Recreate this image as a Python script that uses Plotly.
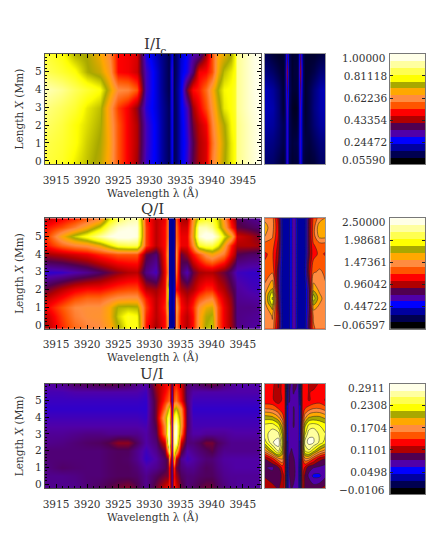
import numpy as np
import plotly.graph_objects as go

W, H = 433, 551

# wavelengths of the hand read columns, main panels
wave = [3913.2, 3916, 3918, 3920, 3922, 3923.5, 3925, 3926.5, 3928, 3929.5, 3931, 3932.5, 3932.9, 3933.2, 3933.6,
        3934, 3934.3, 3935, 3936, 3937, 3938, 3939, 3940, 3941, 3942, 3943, 3943.8, 3944.1, 3946, 3947.9]
# offset from line centre, small panels
core = [-1, -.75, -.55, -.42, -.34, -.27, -.2, -.12, -.05, .02, .09, .165, .24, .32, .45, .6, .8, 1]

x_i = [-0.2, 1, 2, 3, 4, 5, 6]
x_q = [-0.2, 0.5, 1, 1.5, 2, 3, 4, 4.5, 5, 5.5, 6]
x_q_core = [-0.2, 0.5, 1, 1.25, 1.5, 1.75, 2, 3, 4, 4.5, 5, 5.5, 6]
x_u = [-0.24, 0.5, 1, 1.5, 2, 2.5, 3, 3.5, 4, 4.5, 5, 5.5, 6]

i_main = [
    [.84,.82,.78,.75,.72,.66,.56,.49,.43,.30,.25,.18,.16,.15,.26,.15,.16,.24,.30,.39,.44,.47,.60,.67,.73,.78,.80,.89,.94,.98],
    [.85,.83,.80,.76,.73,.67,.56,.49,.44,.31,.25,.18,.16,.15,.27,.15,.16,.24,.29,.38,.44,.47,.58,.66,.72,.78,.80,.89,.94,.98],
    [.87,.84,.80,.77,.74,.66,.56,.49,.44,.31,.25,.18,.16,.15,.27,.15,.16,.24,.30,.40,.45,.49,.60,.68,.73,.79,.81,.89,.94,.98],
    [.89,.86,.83,.78,.75,.65,.54,.49,.42,.29,.24,.18,.16,.15,.28,.15,.16,.25,.31,.43,.49,.55,.63,.71,.78,.80,.82,.90,.95,.98],
    [.93,.90,.86,.83,.80,.71,.62,.61,.56,.31,.24,.17,.15,.14,.29,.14,.17,.25,.40,.50,.52,.58,.66,.74,.79,.80,.82,.90,.95,.99],
    [.86,.83,.80,.74,.71,.65,.50,.49,.46,.31,.24,.17,.15,.14,.30,.14,.16,.24,.28,.36,.49,.50,.55,.68,.75,.78,.80,.90,.95,.99],
    [.84,.80,.74,.73,.68,.62,.50,.49,.47,.28,.22,.17,.15,.14,.25,.14,.16,.23,.27,.32,.33,.43,.55,.67,.69,.73,.79,.90,.95,.99],
]
i_core = [
    [.17,.16,.135,.12,.14,.30,.14,.12,.125,.125,.135,.29,.14,.125,.12,.125,.155,.16],
    [.19,.18,.16,.14,.15,.30,.15,.13,.135,.135,.15,.30,.15,.135,.13,.15,.175,.18],
    [.21,.20,.17,.145,.15,.30,.15,.125,.12,.12,.14,.30,.15,.125,.14,.17,.20,.21],
    [.22,.21,.17,.125,.15,.32,.15,.115,.11,.11,.13,.32,.15,.12,.14,.18,.21,.22],
    [.22,.20,.165,.125,.16,.38,.16,.125,.125,.125,.14,.36,.16,.12,.14,.175,.21,.225],
    [.18,.16,.135,.12,.16,.42,.16,.12,.13,.13,.14,.42,.16,.12,.125,.14,.17,.18],
    [.15,.125,.115,.12,.15,.36,.15,.12,.125,.125,.14,.36,.15,.12,.12,.12,.13,.14],
]

q_main = [
    [.95,1.2,1.35,1.42,1.45,1.55,1.75,1.95,2.0,1.15,.95,1.15,1.45,.35,.3,.35,1.5,1.1,.98,1.15,1.55,1.8,1.85,1.3,1.1,.95,.85,.72,.68,.66],
    [1.0,1.25,1.42,1.48,1.5,1.6,1.85,2.0,1.95,1.2,1.0,1.15,1.55,.35,.3,.35,1.5,1.1,1.0,1.15,1.55,1.75,1.8,1.3,1.1,.95,.82,.72,.7,.68],
    [1.1,1.3,1.45,1.48,1.48,1.6,1.8,1.82,1.8,1.25,1.0,1.2,1.7,.4,.3,.4,1.55,1.15,1.05,1.2,1.5,1.65,1.7,1.3,1.1,.95,.82,.72,.72,.7],
    [1.0,1.15,1.28,1.35,1.35,1.42,1.48,1.5,1.5,1.18,1.0,1.15,1.85,.4,.3,.4,1.45,1.1,1.0,1.12,1.3,1.4,1.45,1.2,1.05,.92,.8,.7,.68,.66],
    [.85,1.0,1.1,1.15,1.15,1.2,1.25,1.28,1.28,1.0,.95,1.1,1.9,.4,.3,.4,1.15,.98,.92,.98,1.1,1.2,1.2,1.05,.98,.85,.78,.68,.64,.62],
    [.58,.6,.65,.7,.78,.85,.92,.98,1.0,.72,.62,1.1,1.45,.35,.3,.35,1.4,.78,.64,.85,.95,.98,.98,.92,.86,.76,.66,.62,.6,.6],
    [.95,1.0,1.05,1.1,1.2,1.25,1.3,1.3,1.3,.85,.75,1.15,1.55,.35,.3,.35,1.5,.85,.95,1.15,1.3,1.5,1.6,1.5,1.4,1.1,.98,.82,.78,.76],
    [1.15,1.35,1.45,1.5,1.65,1.85,2.05,2.1,2.1,1.25,1.0,1.15,1.45,.35,.3,.35,1.4,1.1,1.1,1.45,2.0,2.1,2.1,1.9,1.6,1.2,1.05,.98,.98,.95],
    [1.2,1.6,1.85,2.0,2.25,2.4,2.48,2.48,2.4,1.25,1.0,1.15,1.4,.35,.3,.35,1.35,1.1,1.1,1.6,2.35,2.5,2.48,2.25,1.9,1.65,1.3,1.05,.98,.88],
    [1.15,1.28,1.42,1.6,1.85,2.15,2.35,2.4,2.4,1.25,1.0,1.15,1.4,.35,.3,.35,1.35,1.05,1.05,1.55,2.3,2.3,2.2,1.9,1.6,1.2,1.05,.85,.8,.75],
    [1.0,1.12,1.2,1.3,1.45,1.85,2.1,2.25,2.3,1.2,1.0,1.1,1.4,.35,.3,.35,1.3,.98,.95,1.5,1.9,2.0,2.0,1.85,1.5,1.1,.95,.8,.72,.68],
]
q_core = [
    [1.45,1.5,.95,.35,.3,.35,.35,.55,.65,.6,.35,.3,.3,.35,.8,1.35,1.45,1.4],
    [1.4,1.55,1.0,.35,.3,.35,.35,.55,.65,.6,.35,.3,.3,.35,.75,1.4,1.45,1.4],
    [1.45,1.75,.9,.35,.3,.35,.35,.55,.65,.6,.35,.3,.3,.35,.7,1.6,1.5,1.4],
    [1.5,1.95,.88,.34,.3,.35,.35,.55,.65,.6,.35,.3,.3,.34,.7,1.8,1.55,1.42],
    [1.5,2.05,.85,.33,.3,.35,.35,.55,.65,.6,.35,.3,.3,.33,.7,1.95,1.6,1.45],
    [1.5,1.95,.82,.33,.3,.35,.35,.55,.65,.6,.35,.3,.3,.33,.7,1.85,1.55,1.42],
    [1.45,1.75,.8,.33,.3,.35,.35,.55,.65,.6,.35,.3,.3,.33,.7,1.65,1.5,1.4],
    [1.25,1.35,.8,.35,.3,.35,.35,.55,.65,.6,.35,.3,.3,.4,.95,1.35,1.4,1.35],
    [1.2,1.25,.95,.4,.3,.35,.35,.55,.65,.6,.35,.3,.3,.35,.85,1.15,1.25,1.2],
    [1.3,1.3,1.0,.4,.3,.35,.35,.55,.65,.6,.35,.3,.3,.35,.85,1.2,1.3,1.3],
    [1.55,1.4,1.05,.4,.3,.35,.35,.55,.65,.6,.35,.3,.3,.35,.85,1.3,1.6,1.6],
    [1.6,1.45,1.05,.4,.3,.35,.35,.55,.65,.6,.35,.3,.3,.35,.85,1.3,1.65,1.68],
    [1.5,1.45,1.0,.4,.3,.35,.35,.55,.65,.6,.35,.3,.3,.35,.85,1.25,1.45,1.55],
]

u_main = [
    [.08,.08,.08,.085,.09,.095,.10,.105,.095,.08,.10,.12,.13,.14,.08,.14,.125,.10,.085,.09,.095,.10,.10,.09,.085,.08,.08,.078,.078,.078],
    [.08,.08,.082,.085,.085,.088,.09,.09,.088,.08,.09,.10,.10,.13,.08,.13,.11,.09,.085,.085,.088,.09,.09,.085,.08,.078,.078,.078,.078,.078],
    [.082,.088,.086,.085,.085,.088,.09,.09,.085,.075,.08,.09,.10,.13,.08,.14,.10,.085,.08,.08,.085,.09,.088,.082,.078,.076,.075,.075,.075,.075],
    [.085,.085,.085,.085,.085,.088,.09,.088,.08,.068,.075,.09,.10,.17,.08,.20,.12,.08,.07,.075,.08,.085,.085,.08,.076,.075,.075,.075,.075,.075],
    [.085,.085,.085,.085,.085,.088,.09,.09,.08,.07,.08,.10,.17,.25,.08,.24,.20,.10,.075,.08,.085,.09,.095,.085,.08,.08,.08,.08,.08,.08],
    [.08,.082,.085,.088,.09,.095,.105,.105,.09,.075,.085,.12,.24,.28,.08,.26,.27,.12,.085,.085,.09,.10,.10,.09,.085,.08,.08,.08,.08,.08],
    [.078,.078,.08,.082,.082,.08,.08,.08,.08,.075,.09,.165,.26,.285,.08,.27,.285,.165,.085,.075,.075,.078,.078,.078,.078,.076,.075,.075,.075,.075],
    [.074,.074,.074,.074,.074,.074,.074,.074,.074,.072,.095,.17,.25,.28,.08,.26,.28,.18,.09,.072,.072,.072,.072,.072,.072,.072,.072,.072,.072,.072],
    [.071,.071,.071,.071,.071,.071,.071,.071,.071,.068,.10,.19,.24,.25,.08,.23,.25,.18,.09,.07,.07,.07,.07,.07,.07,.07,.07,.07,.07,.07],
    [.067,.067,.067,.067,.067,.067,.067,.067,.067,.066,.10,.16,.20,.22,.08,.20,.21,.17,.09,.067,.067,.067,.067,.067,.067,.067,.067,.067,.067,.067],
    [.069,.069,.069,.069,.069,.069,.069,.069,.069,.067,.10,.14,.15,.16,.07,.15,.16,.13,.085,.07,.07,.07,.07,.07,.07,.07,.07,.07,.07,.07],
    [.072,.072,.074,.074,.074,.074,.074,.074,.074,.07,.105,.13,.14,.15,.08,.14,.15,.125,.085,.075,.074,.074,.074,.074,.074,.074,.074,.074,.074,.074],
    [.075,.08,.09,.092,.095,.098,.095,.09,.082,.075,.11,.125,.13,.135,.09,.13,.135,.12,.088,.085,.09,.095,.10,.095,.085,.08,.078,.075,.075,.075],
]
u_core = [
    [.12,.11,.10,.115,.13,.03,.08,.085,.08,.08,.08,.03,.13,.10,.10,.095,.10,.11],
    [.10,.09,.085,.11,.13,.03,.08,.10,.09,.08,.08,.03,.13,.10,.08,.06,.06,.08],
    [.085,.08,.10,.13,.13,.03,.085,.10,.09,.08,.08,.03,.13,.12,.09,.085,.08,.075],
    [.10,.13,.17,.18,.13,.04,.085,.09,.085,.08,.08,.04,.135,.17,.17,.14,.11,.10],
    [.17,.22,.26,.21,.13,.045,.08,.085,.08,.08,.08,.045,.16,.235,.25,.225,.19,.17],
    [.225,.27,.285,.23,.14,.045,.08,.08,.08,.08,.08,.045,.17,.26,.28,.275,.25,.225],
    [.245,.265,.26,.21,.14,.05,.08,.08,.08,.08,.08,.05,.16,.23,.265,.27,.25,.235],
    [.24,.245,.225,.19,.135,.05,.08,.08,.085,.08,.08,.05,.15,.21,.24,.245,.235,.225],
    [.205,.2,.18,.15,.13,.05,.08,.075,.085,.08,.08,.05,.13,.17,.195,.2,.2,.19],
    [.16,.155,.14,.13,.13,.05,.08,.075,.085,.08,.08,.05,.13,.14,.15,.16,.16,.15],
    [.125,.125,.11,.125,.13,.04,.085,.08,.08,.08,.08,.04,.13,.13,.12,.125,.13,.12],
    [.13,.125,.105,.13,.135,.03,.085,.08,.085,.08,.08,.03,.135,.135,.12,.125,.13,.125],
    [.12,.13,.10,.13,.13,.02,.09,.08,.085,.09,.08,.02,.13,.14,.12,.11,.125,.125],
]

band_colors = ['#000000', '#000050', '#0000a0', '#0000ff', '#5000a8', '#500050', '#b00000', '#ff0000',
               '#ff5500', '#ff8c40', '#ffa800', '#a8a800', '#ffff00', '#ffff50', '#ffffa0', '#ffffe8']
n_bands = len(band_colors)
# contour fill wants the stops on the bands, the smooth maps want them on the band centres
scale = [[k / (n_bands - 1), c] for k, c in enumerate(band_colors)]
smooth = [[0, band_colors[0]]] + [[(k + .5) / n_bands, c] for k, c in enumerate(band_colors)] + [[1, band_colors[-1]]]

i_ticks = ['1.00000', '0.81118', '0.62236', '0.43354', '0.24472', '0.05590']
q_ticks = ['2.50000', '1.98681', '1.47361', '0.96042', '0.44722', '\u22120.06597']
u_ticks = ['0.2911', '0.2308', '0.1704', '0.1101', '0.0498', '\u22120.0106']

SERIF = 'DejaVu Serif'
INK = '#333333'
FRAME = '#555555'


def xd(a, b):
    return [a / W, b / W]


def yd(top, bottom):
    return [1 - bottom / H, 1 - top / H]


panels = [
    dict(title='I/I', top=54, bottom=165, cb_bottom=165, ymin=-0.2, x=x_i, x_small=x_i, main=i_main, small=i_core, vmin=0.0559, vmax=1.0,
         ticks=i_ticks, lines=False, top_lab=58, bot_lab=161, title_y=44),
    dict(title='Q/I', top=219, bottom=330, cb_bottom=330, ymin=-0.2, x=x_q, x_small=x_q_core, main=q_main, small=q_core, vmin=-0.06597, vmax=2.5,
         ticks=q_ticks, lines=True, top_lab=223, bot_lab=326, title_y=210),
    dict(title='U/I', top=385, bottom=490, cb_bottom=496, ymin=-0.24, x=x_u, x_small=x_u, main=u_main, small=u_core, vmin=-0.0106, vmax=0.2911,
         ticks=u_ticks, lines=True, top_lab=389, bot_lab=492, title_y=375),
]

fig = go.Figure()
layout = dict(width=W, height=H, margin=dict(l=0, r=0, t=0, b=0), paper_bgcolor='white', plot_bgcolor='white',
              font=dict(family=SERIF, size=10.5, color=INK), showlegend=False, annotations=[])

# hidden strip above the first panel: the subscript of I/Ic gets cut off at the frame
fig.add_trace(go.Scatter(x=[0.5], y=[0], mode='text', text=['c'], textposition='middle center',
                         textfont=dict(family=SERIF, size=11, color=INK), xaxis='x', yaxis='y', hoverinfo='skip'))
layout['xaxis'] = dict(domain=xd(152, 172), range=[0, 1], visible=False)
layout['yaxis'] = dict(domain=yd(44, 54), range=[-.15, 1], visible=False)

n = 2
for p in panels:
    step = (p['vmax'] - p['vmin']) / n_bands
    levels = dict(start=p['vmin'] + step, end=p['vmax'] - step, size=step, coloring='fill', showlines=True)
    ax = str(n)
    # main map
    fig.add_trace(go.Heatmap(x=wave, y=p['x'], z=p['main'], colorscale=smooth, zmin=p['vmin'], zmax=p['vmax'], zsmooth='best',
                             showscale=False, xaxis='x' + ax, yaxis='y' + ax))
    layout['xaxis' + ax] = dict(domain=xd(43, 260), anchor='y' + ax, range=[3913.2, 3947.9], tickmode='array',
                                tickvals=[3915, 3920, 3925, 3930, 3935, 3940, 3945], ticks='inside', ticklen=4,
                                tickcolor='black', showline=True, linecolor=FRAME, mirror='ticks', showgrid=False, zeroline=False,
                                ticklabelstandoff=6, tickfont=dict(size=10.5),
                                minor=dict(dtick=1, ticks='inside', ticklen=2, tickcolor='black', showgrid=False),
                                title=dict(text='Wavelength \u03bb (\u00c5)', standoff=3, font=dict(size=10.5)))
    layout['yaxis' + ax] = dict(domain=yd(p['top'], p['bottom']), anchor='x' + ax, range=[p['ymin'], 6],
                                tickmode='array', tickvals=[0, 1, 2, 3, 4, 5], ticks='inside', ticklen=4, tickcolor='black',
                                showline=True, linecolor=FRAME, mirror='ticks', showgrid=False, zeroline=False,
                                tickfont=dict(size=10.5), minor=dict(dtick=0.2, ticks='inside', ticklen=2, tickcolor='black', showgrid=False),
                                title=dict(text='Length <i>X</i> (Mm)', standoff=9, font=dict(size=10.5)))
    n += 1
    ax = str(n)
    # line core map
    if p['lines']:
        fig.add_trace(go.Contour(x=core, y=p['x_small'], z=p['small'], colorscale=scale, autocontour=False, contours=levels,
                                 line=dict(width=0.5, color='#222222', smoothing=1), showscale=False, xaxis='x' + ax, yaxis='y' + ax))
    else:
        fig.add_trace(go.Heatmap(x=core, y=p['x_small'], z=p['small'], colorscale=smooth, zmin=p['vmin'], zmax=p['vmax'], zsmooth='best',
                                 showscale=False, xaxis='x' + ax, yaxis='y' + ax))
    layout['xaxis' + ax] = dict(domain=xd(264, 325), anchor='y' + ax, range=[-1, 1], showticklabels=False, ticks='',
                                showline=True, linecolor='#999999', mirror=True, showgrid=False, zeroline=False)
    layout['yaxis' + ax] = dict(domain=yd(p['top'], p['bottom']), anchor='x' + ax, range=[p['ymin'], 6], showticklabels=False, ticks='',
                                showline=True, linecolor='#999999', mirror=True, showgrid=False, zeroline=False)
    n += 1
    ax = str(n)
    # colour bar
    centres = p['vmin'] + step * (np.arange(n_bands) + 0.5)
    fig.add_trace(go.Heatmap(x=[0], y=centres, z=[[k] for k in range(n_bands)], colorscale=scale, zmin=0, zmax=n_bands - 1,
                             showscale=False, xaxis='x' + ax, yaxis='y' + ax, hoverinfo='skip'))
    tick_pos = [float(t.replace('\u2212', '-')) for t in p['ticks']]
    layout['xaxis' + ax] = dict(domain=xd(390, 425), anchor='y' + ax, range=[-.5, .5], showticklabels=False, ticks='',
                                showline=True, linecolor='#777777', mirror=True, showgrid=False, zeroline=False)
    layout['yaxis' + ax] = dict(domain=yd(p['top'], p['cb_bottom']), anchor='x' + ax, range=[p['vmin'], p['vmax']],
                                tickmode='array', tickvals=tick_pos, ticktext=[''] + p['ticks'][1:-1] + [''],
                                ticks='inside', ticklen=3, tickcolor='#222222', showline=True, linecolor='#777777', mirror='ticks',
                                showgrid=False, zeroline=False, tickfont=dict(size=10.5))
    # end labels sit inside the bar height
    for text, ypx in [(p['ticks'][0], p['top_lab']), (p['ticks'][-1], p['bot_lab'])]:
        layout['annotations'].append(dict(text=text, xref='paper', yref='paper', x=387 / W, y=1 - ypx / H, xanchor='right',
                                          yanchor='middle', showarrow=False, font=dict(family=SERIF, size=10.5, color=INK)))
    # panel title
    layout['annotations'].append(dict(text=p['title'], xref='paper', yref='paper', x=151 / W, y=1 - p['title_y'] / H,
                                      xanchor='center', yanchor='middle', showarrow=False,
                                      font=dict(family=SERIF, size=15, color=INK)))
    n += 1

fig.update_layout(**layout)
# the page has a default body margin that would push the figure 8 px off
fig.write_html("out.html", config={'displayModeBar': False}, post_script="document.body.style.margin='0'")
